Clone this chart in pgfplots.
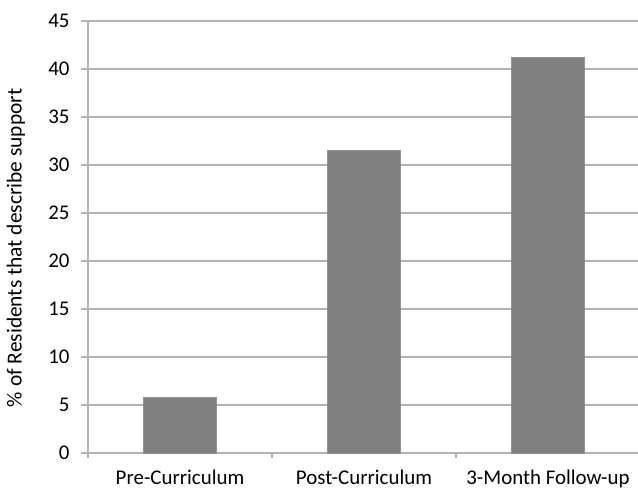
\documentclass[border=0pt]{standalone}
\usepackage{fontspec}
\setmainfont{Carlito}
\usepackage{pgfplots}
\pgfplotsset{compat=1.18}
\definecolor{barfill}{HTML}{808080}
\definecolor{baredge}{HTML}{909090}
\definecolor{gridgray}{HTML}{B2B2B2}
\begin{document}
\begin{tikzpicture}
\begin{axis}[
  at={(0,0)}, anchor=south west,
  scale only axis, width=552bp, height=432bp,
  xmin=-0.5, xmax=2.5, ymin=0, ymax=45,
  ytick={0,5,...,45},
  xtick={0,1,2},
  xticklabels={Pre-Curriculum, Post-Curriculum, 3-Month Follow-up},
  minor xtick={-0.5,0.5,1.5,2.5},
  axis x line*=bottom, axis y line*=left,
  axis line style={gridgray, line width=1.4bp, -},
  ymajorgrids, grid style={gridgray, line width=1.4bp},
  tick align=outside,
  major tick length=7bp, minor tick length=5bp,
  major x tick style={draw=none},
  minor x tick style={gridgray, line width=1.4bp},
  major y tick style={gridgray, line width=1.4bp},
  /pgf/number format/assume math mode=true,
  tick label style={font=\fontsize{21}{24}\selectfont},
  yticklabel style={xshift=-8bp},
  xticklabel style={yshift=-6bp},
  ylabel={\% of Residents that describe support},
  ylabel style={font=\fontsize{21.5}{24}\selectfont,
    at={(rel axis cs:0,0.475)}, anchor=center, yshift=72bp},
  ybar, bar width=0.4,
]
\addplot[fill=barfill, draw=baredge, line width=0.8bp] coordinates {(0,5.8) (1,31.5) (2,41.2)};
\end{axis}
\pgfresetboundingbox
\path[use as bounding box] (-88bp,-38bp) rectangle (550bp,453bp);
\end{tikzpicture}
\end{document}
